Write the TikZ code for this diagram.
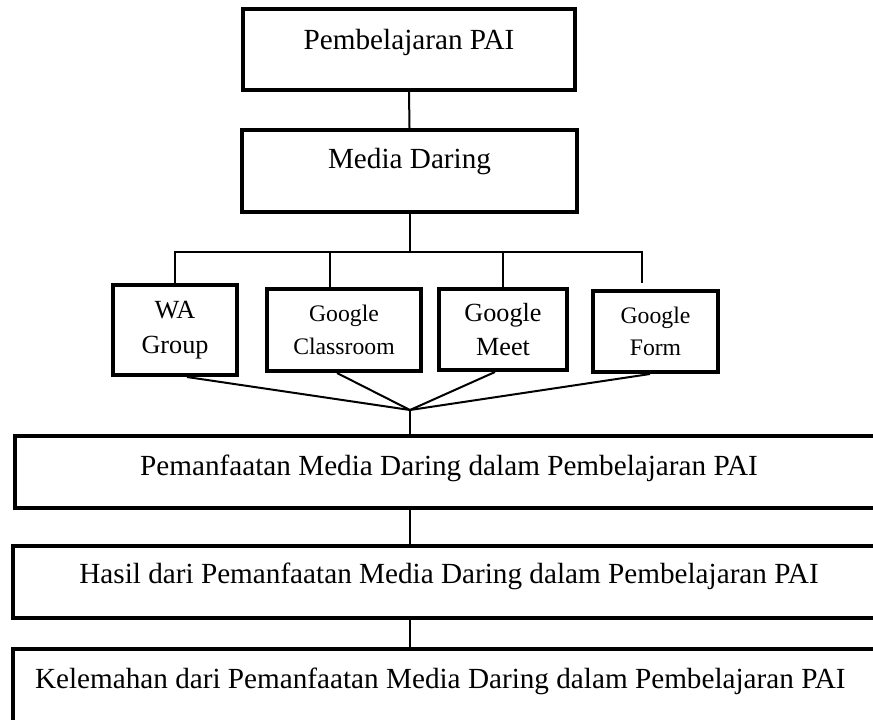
\documentclass[tikz,border=0pt]{standalone}
\usepackage{fontspec}
\setmainfont{Liberation Serif}
\usepackage{tikz}
\usetikzlibrary{calc}

\begin{document}
\begin{tikzpicture}[x=0.5pt, y=-0.5pt,
        box/.style={draw, line width=2pt, inner sep=0pt, anchor=base, font=\fontsize{14.6}{17}\selectfont},
        smallbox/.style={draw, line width=2pt, inner sep=0pt, align=center},
        link/.style={line width=1pt}]
        \useasboundingbox (0,0) rectangle (873,719);
        \clip (0,0) rectangle (873,719);

        \node (pai) at (409,49) [box, minimum width=166pt, text height=20pt, text depth=20.5pt] {Pembelajaran PAI};
        \node (media) at (409.5,168) [box, minimum width=167.5pt, text height=19pt, text depth=22pt] {Media Daring};

        \node (wa) at (175,330) [smallbox, minimum width=62pt, minimum height=45pt, font=\fontsize{13.1}{17.85}\selectfont] {WA\\Group};
        \node (classroom) at (344,330) [smallbox, minimum width=77pt, minimum height=41pt, font=\fontsize{11.85}{16.5}\selectfont] {Google\\Classroom};
        \node (meet) at (503,329.5) [smallbox, minimum width=64pt, minimum height=40.5pt, font=\fontsize{13.1}{17.15}\selectfont] {Google\\Meet};
        \node (form) at (655.5,331.5) [smallbox, minimum width=62.5pt, minimum height=40.5pt, font=\fontsize{11.85}{16}\selectfont] {Google\\Form};

        \node (pemanfaatan) at (449,475) [box, minimum width=434pt, text height=19.5pt, text depth=16.5pt] {Pemanfaatan Media Daring dalam Pembelajaran PAI};
        \node (hasil) at (449,583) [box, minimum width=436pt, text height=18.5pt, text depth=17.5pt] {Hasil dari Pemanfaatan Media Daring dalam Pembelajaran PAI};
        \node (kelemahan) at (11,688) [box, anchor=base west, inner xsep=11pt, text width=422.5pt, align=flush left, text height=19.5pt, text depth=20pt] {Kelemahan dari Pemanfaatan Media Daring dalam Pembelajaran PAI};

        \coordinate (hub) at (410,252);
        \coordinate (classtop) at (330,252);
        \coordinate (formtop) at (642,283);
        \coordinate (merge) at (410,410);

        \draw [link] (pai.south) -- (media.north);
        \draw [link] (media.south) -- (media.south |- hub);
        \draw [link] (wa.north) -- (wa.north |- hub) -- (formtop |- hub) -- (formtop);
        \draw [link] (classtop) -- (classtop |- classroom.north);
        \draw [link] (meet.north |- hub) -- (meet.north);

        \draw [link] ([xshift=6pt]wa.south) -- (merge);
        \draw [link] ([xshift=-3.5pt]classroom.south) -- (merge);
        \draw [link] ([xshift=-4pt]meet.south) -- (merge);
        \draw [link] ([xshift=-2.75pt]form.south) -- (merge);

        \draw [link] (merge) -- (merge |- pemanfaatan.north);
        \draw [link] (pemanfaatan.south -| merge) -- (hasil.north -| merge);
        \draw [link] (hasil.south -| merge) -- (kelemahan.north -| merge);
    \end{tikzpicture}
\end{document}
